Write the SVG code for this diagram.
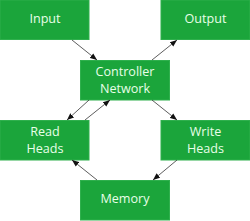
<svg xmlns="http://www.w3.org/2000/svg" width="250" height="221" viewBox="0 0 250 221">
<style>
.box{fill:#1ba53b;stroke:#2fb04d;stroke-width:1}
.t{font-family:"Open Sans",sans-serif;font-size:12.6px;fill:#e8ffe8;text-anchor:middle}
.c{stroke:#333;stroke-width:0.8;fill:none;marker-end:url(#a)}
</style>
<defs>
<marker id="a" viewBox="0 0 10 10" refX="10" refY="5" markerWidth="7" markerHeight="7" orient="auto" markerUnits="userSpaceOnUse">
<path d="M0,1 L10,5 L0,9 Z" fill="#111"/>
</marker>
</defs>
<rect width="250" height="221" fill="#fff"/>
<g id="input"><rect class="box" x="0" y="0" width="89" height="39.5"/><text class="t" x="45" y="23.3">Input</text></g>
<g id="output"><rect class="box" x="161" y="0" width="89" height="39.5"/><text class="t" x="205.5" y="23.3">Output</text></g>
<g id="controller"><rect class="box" x="80.5" y="60.5" width="89" height="39.5"/><text class="t" x="125" y="76.3">Controller</text><text class="t" x="125" y="93">Network</text></g>
<g id="read"><rect class="box" x="0" y="120.5" width="89" height="39.5"/><text class="t" x="45" y="136">Read</text><text class="t" x="45" y="153">Heads</text></g>
<g id="write"><rect class="box" x="161" y="120.5" width="89" height="39.5"/><text class="t" x="205.5" y="136">Write</text><text class="t" x="205.5" y="153">Heads</text></g>
<g id="memory"><rect class="box" x="80.5" y="180.5" width="89" height="39.5"/><text class="t" x="125" y="203.3">Memory</text></g>
<g id="connectors">
<line class="c" x1="72" y1="40" x2="97" y2="60"/>
<line class="c" x1="152" y1="60" x2="177" y2="40"/>
<line class="c" x1="89" y1="100" x2="67" y2="120"/>
<line class="c" x1="85" y1="120" x2="110" y2="100"/>
<line class="c" x1="152" y1="100" x2="177" y2="120"/>
<line class="c" x1="177" y1="160" x2="153" y2="180"/>
<line class="c" x1="97" y1="180" x2="72" y2="160"/>
</g>
</svg>
